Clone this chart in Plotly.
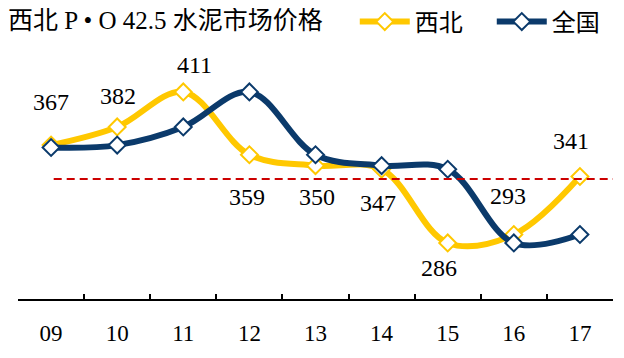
import plotly.graph_objects as go

years = ["09", "10", "11", "12", "13", "14", "15", "16", "17"]
northwest = [367, 382, 411, 359, 350, 347, 286, 293, 341]
national = [365, 367, 382, 411, 359, 350, 347, 286, 293]
ref_level = 339

title_text = "西北 P • O 42.5 水泥市场价格"
names = ["西北", "全国"]

# label offsets (pixels) for the 西北 data labels
label_dx = [0, 1, 11, -2, 1, -4, -9, -6, -9]
label_dy = [43, 31, 27, -42, -31, -34, -25, 38, 36]

YELLOW = "#FFC800"
NAVY = "#0B3A6B"
FONT = "Liberation Serif, Noto Sans CJK SC, serif"

fig = go.Figure()
for name, vals, col in [(names[0], northwest, YELLOW), (names[1], national, NAVY)]:
    fig.add_trace(go.Scatter(
        x=years, y=vals, name=name, mode="lines+markers",
        line=dict(color=col, width=6, shape="spline", smoothing=1),
        marker=dict(symbol="diamond", size=13, color="white",
                    line=dict(color=col, width=2)),
    ))

annots = []
for i, v in enumerate(northwest):
    annots.append(dict(x=i, y=v, xref="x", yref="y", text=str(v),
                       showarrow=False, xshift=label_dx[i], yshift=label_dy[i],
                       font=dict(family=FONT, size=24, color="black")))

fig.add_shape(type="line", xref="x", yref="y", x0=0.04, x1=8.5,
              y0=ref_level, y1=ref_level, layer="above",
              line=dict(color="#CC0000", width=2, dash="8px,5px"))

fig.update_layout(
    width=624, height=358, autosize=False,
    margin=dict(l=10, r=19, t=32, b=67, autoexpand=False),
    paper_bgcolor="white", plot_bgcolor="white",
    font=dict(family=FONT, size=23, color="black"),
    annotations=annots,
    title=dict(text=title_text, xref="container", yref="container",
               x=0, xanchor="left", y=1 - 12.5 / 358, yanchor="middle",
               font=dict(family=FONT, size=25, color="black")),
    legend=dict(orientation="h", x=0.566, xanchor="left", y=1.0695,
                yanchor="middle", font=dict(family=FONT, size=24),
                bgcolor="rgba(0,0,0,0)", itemwidth=50, entrywidth=72,
                traceorder="normal"),
    showlegend=True,
)
fig.update_xaxes(type="category", categoryorder="array", categoryarray=years,
                 range=[-0.5, 8.5], tickson="boundaries", ticks="inside",
                 ticklen=5, tickwidth=1.5, tickcolor="black",
                 showline=True, linewidth=2, linecolor="black",
                 showgrid=False, zeroline=False, ticklabelstandoff=12,
                 tickfont=dict(family=FONT, size=23, color="black"))
fig.update_yaxes(range=[239.6, 454], visible=False, showgrid=False,
                 zeroline=False)

fig.write_html("out.html")
